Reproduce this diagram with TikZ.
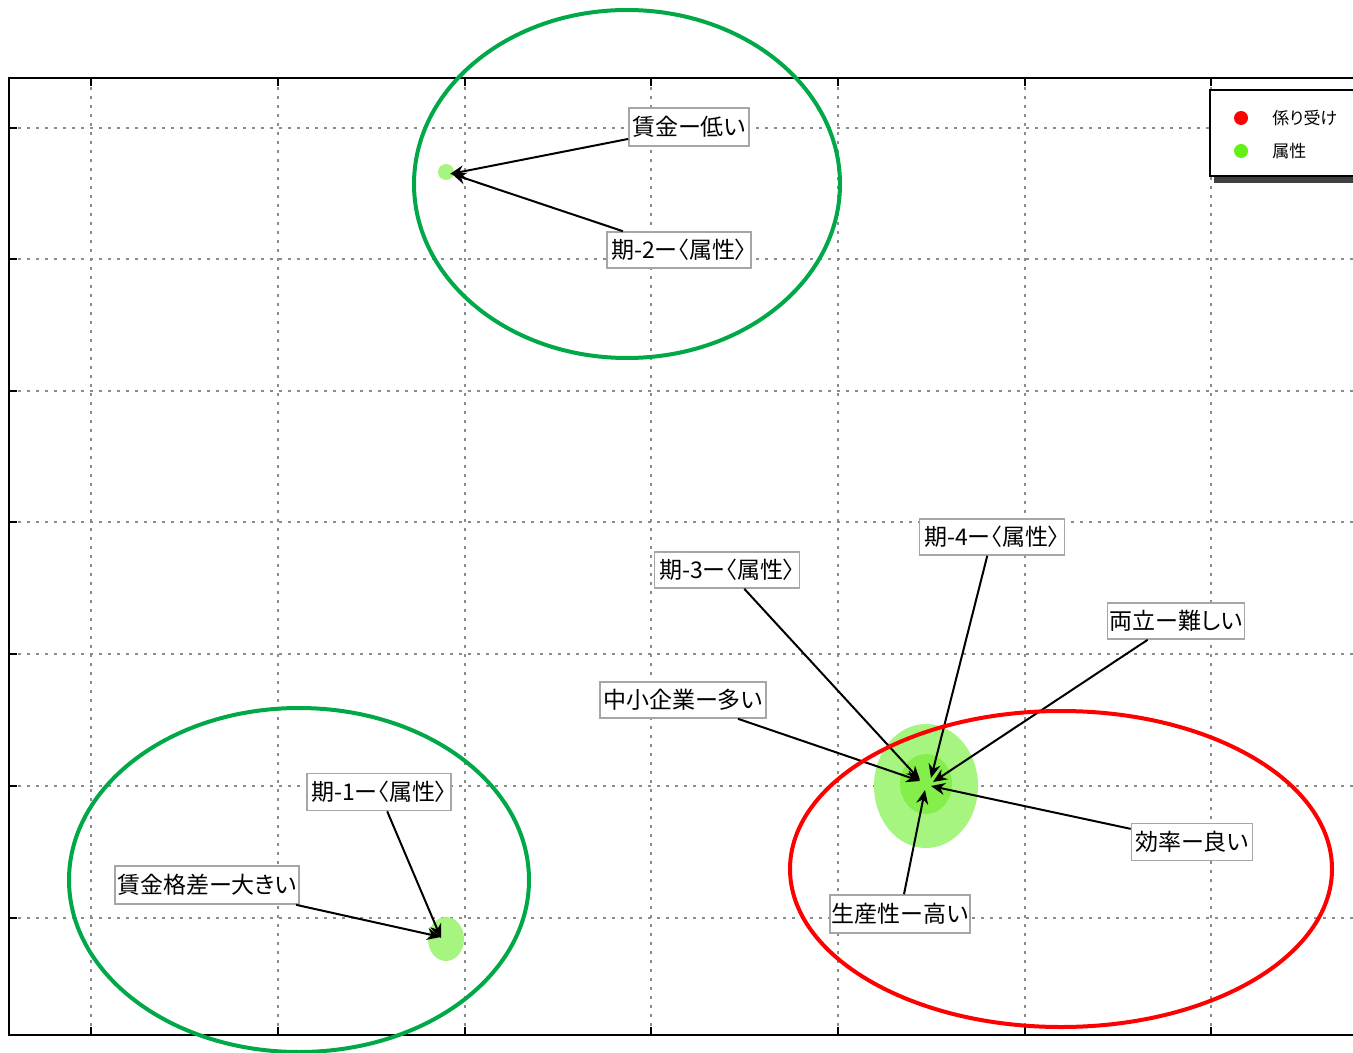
\documentclass[tikz,border=0pt]{standalone}
\usepackage{fontspec}
\newfontfamily\jp[RawFeature=+palt]{Noto Sans CJK JP}
\usetikzlibrary{arrows.meta}
\definecolor{ringgreen}{RGB}{0,168,72}
\definecolor{blobA}{RGB}{166,245,128}
\definecolor{blobB}{RGB}{124,238,60}
\definecolor{dotgreen}{RGB}{100,240,20}
\tikzset{
  lbl/.style={draw=black!35, line width=0.8pt, fill=white, inner sep=1pt, font=\jp\fontsize{11.5}{13}\selectfont, text=black},
  arr/.style={black, line width=1pt, -{Stealth[length=7pt,width=6pt]}},
  gridline/.style={black!45, line width=0.7pt, dash pattern=on 1.5pt off 3pt},
  ring/.style={line width=2pt},
}
\begin{document}
\begin{tikzpicture}[x=0.5pt,y=-0.5pt]
\useasboundingbox (0,0) rectangle (1353,1053);
\clip (0,0) rectangle (1353,1053);
% grid
\foreach \gx in {91,278,465,651,838,1025,1211} {
  \draw[gridline] (\gx,78) -- (\gx,1035);
  \draw[black, line width=0.8pt] (\gx,1035) -- (\gx,1027);
  \draw[black, line width=0.8pt] (\gx,78) -- (\gx,86);
}
\foreach \gy in {128,259,391,522,654,786,918} {
  \draw[gridline] (9,\gy) -- (1353,\gy);
  \draw[black, line width=0.8pt] (9,\gy) -- (17,\gy);
}
% frame
\draw[black, line width=1.2pt] (1360,78) -- (9,78) -- (9,1035) -- (1360,1035);
% blobs
\fill[blobA] (446,172) circle [radius=8];
\fill[blobA] (446,939) ellipse [x radius=18, y radius=22];
\fill[blobA] (926,786) ellipse [x radius=52, y radius=62];
\fill[blobB!80!blobA] (926,784) ellipse [x radius=26, y radius=30];
% targets
\coordinate (t1) at (450,174);
\coordinate (t2) at (452,174);
\coordinate (t3) at (441,938);
\coordinate (t4) at (441,937);
\coordinate (t5) at (920,780);
\coordinate (t6) at (931,778);
\coordinate (t7) at (933,782);
\coordinate (t8) at (920,781);
\coordinate (t9) at (931,786);
\coordinate (t10) at (925,790);
% labels
\node[lbl, minimum width=60pt, minimum height=19pt] (a1) at (689,127) {賃金ー低い};
\node[lbl, minimum width=72pt, minimum height=18pt] (a2) at (679,250) {期-2ー〈属性〉};
\node[lbl, minimum width=72pt, minimum height=18.5pt] (b1) at (379,792) {期-1ー〈属性〉};
\node[lbl, minimum width=92pt, minimum height=19pt] (b2) at (207,885) {賃金格差ー大きい};
\node[lbl, minimum width=72.5pt, minimum height=18pt] (c1) at (727,570) {期-3ー〈属性〉};
\node[lbl, minimum width=72.5pt, minimum height=18pt] (c2) at (992,537) {期-4ー〈属性〉};
\node[lbl, minimum width=67pt, minimum height=18pt] (c3) at (1176,621) {両立ー難しい};
\node[lbl, minimum width=83pt, minimum height=18pt] (c4) at (683,700) {中小企業ー多い};
\node[lbl, minimum width=60.5pt, minimum height=18.5pt] (c5) at (1192,842) {効率ー良い};
\node[lbl, minimum width=69.5pt, minimum height=19pt] (c6) at (900,914) {生産性ー高い};
% arrows
\draw[arr] (a1) -- (t1);
\draw[arr] (a2) -- (t2);
\draw[arr] (b1) -- (t3);
\draw[arr] (b2) -- (t4);
\draw[arr] (c1) -- (t5);
\draw[arr] (c2) -- (t6);
\draw[arr] (c3) -- (t7);
\draw[arr] (c4) -- (t8);
\draw[arr] (c5) -- (t9);
\draw[arr] (c6) -- (t10);
% rings
\draw[ring, ringgreen] (627,184) ellipse [x radius=213, y radius=174];
\draw[ring, ringgreen] (299,880) ellipse [x radius=230, y radius=172];
\draw[ring, red] (1061,869) ellipse [x radius=271, y radius=158];
% legend
\fill[black!75] (1214,176) rectangle (1360,183);
\draw[black, line width=1.2pt, fill=white] (1210,90) rectangle (1360,176);
\fill[red] (1241,118) circle [radius=7];
\fill[dotgreen] (1241,151) circle [radius=7];
\node[anchor=west, inner sep=0pt, font=\jp\fontsize{8.5}{10}\selectfont] (l1) at (1272,118) {係り受け};
\node[anchor=west, inner sep=0pt, font=\jp\fontsize{8.5}{10}\selectfont] (l2) at (1272,151) {属性};
\end{tikzpicture}
\end{document}
